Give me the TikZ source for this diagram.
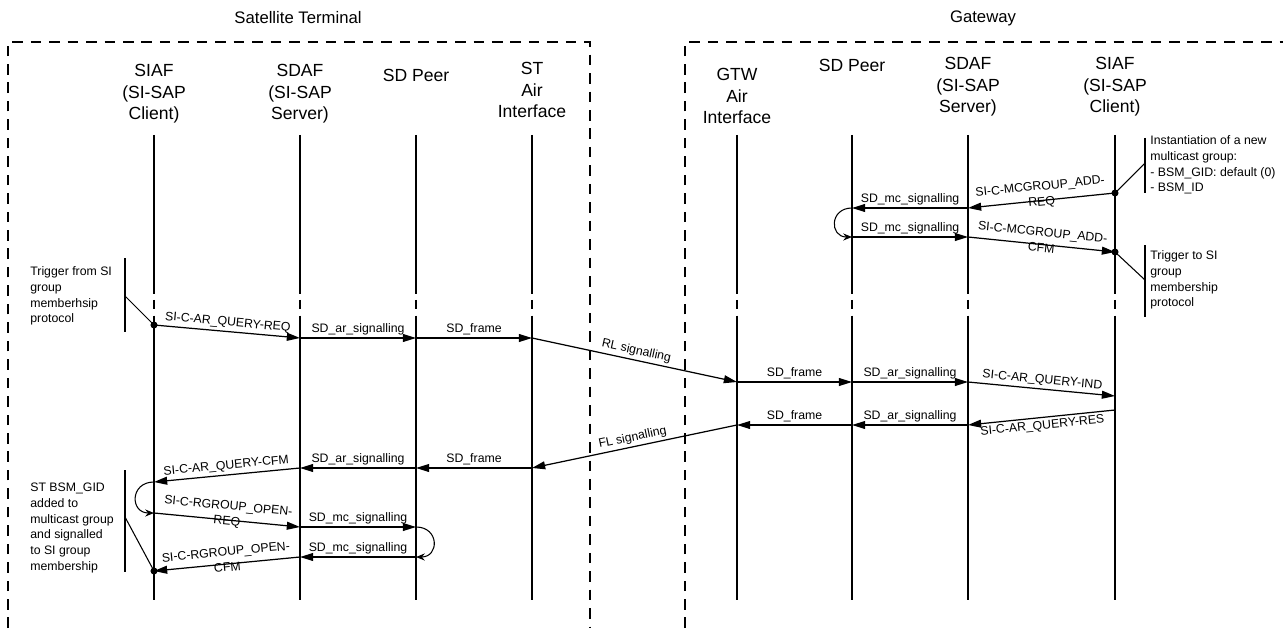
\documentclass[tikz,border=0pt]{standalone}
\usepackage{fontspec}
\setmainfont{Liberation Sans}
\usetikzlibrary{arrows.meta}

\tikzset{
  lifeline/.style={line width=0.6pt},
  breakline/.style={line width=0.6pt,dash pattern=on 5.5pt off 3.5pt},
  msg/.style={line width=0.7pt,-{Triangle[length=7.5pt,width=4.5pt]}},
  selfmsg/.style={line width=0.6pt,-{Stealth[length=5pt,width=4pt]}},
  domainbox/.style={line width=0.8pt,dash pattern=on 6pt off 4.5pt},
  actor/.style={align=center,font=\fontsize{10}{12.3}\selectfont},
  title/.style={font=\fontsize{9.5}{11}\selectfont},
  lbl/.style={font=\fontsize{7}{8}\selectfont,inner sep=1.5pt},
  wraplbl/.style={font=\fontsize{7}{8.8}\selectfont,inner sep=0pt,align=center,
    sloped,above=-4.6pt},
  note/.style={align=left,anchor=west,inner sep=0pt,font=\fontsize{7}{9}\selectfont},
  dot/.style={circle,fill,inner sep=0pt,minimum size=4pt},
}

\begin{document}
\begin{tikzpicture}[x=0.02cm,y=-0.02cm]
  \useasboundingbox (0,0) rectangle (1283,628);

  % Domains
  \node[title] (stTitle) at (298,18) {Satellite Terminal};
  \node[title] (gwTitle) at (983,18) {Gateway};
  \draw[domainbox] (8,628) -- (8,42) -- (590,42) -- (590,628);
  \draw[domainbox] (685,628) -- (685,42) -- (1290,42);

  % Lifeline heads
  \node[actor] (stSiafHd) at (154,94) {SIAF\\(SI-SAP\\Client)};
  \node[actor] (stSdafHd) at (300,94) {SDAF\\(SI-SAP\\Server)};
  \node[actor] (stPeerHd) at (416,75) {SD Peer};
  \node[actor] (stAirHd)  at (532,90) {ST\\Air\\Interface};
  \node[actor] (gwAirHd)  at (737,96) {GTW\\Air\\Interface};
  \node[actor] (gwPeerHd) at (852,65) {SD Peer};
  \node[actor] (gwSdafHd) at (968,87) {SDAF\\(SI-SAP\\Server)};
  \node[actor] (gwSiafHd) at (1115,87) {SIAF\\(SI-SAP\\Client)};

  % Lifelines
  \coordinate (stSiaf) at (154,135);
  \coordinate (stSdaf) at (300,135);
  \coordinate (stPeer) at (416,135);
  \coordinate (stAir)  at (532,135);
  \coordinate (gwAir)  at (737,135);
  \coordinate (gwPeer) at (852,135);
  \coordinate (gwSdaf) at (968,135);
  \coordinate (gwSiaf) at (1115,135);
  \coordinate (brkTop) at (0,284);
  \coordinate (brkBot) at (0,322);
  \coordinate (llEnd)  at (0,600);
  \foreach \l in {stSiaf,stSdaf,stPeer,stAir,gwAir,gwPeer,gwSdaf,gwSiaf} {
    \draw[lifeline] (\l) -- (\l |- brkTop);
    \draw[breakline] (\l |- brkTop) -- (\l |- brkBot);
    \draw[lifeline] (\l |- brkBot) -- (\l |- llEnd);
  }

  % Message levels
  \coordinate (yAddReq) at (0,193);
  \coordinate (yMcA)    at (0,208);
  \coordinate (yMcB)    at (0,237);
  \coordinate (yAddCfm) at (0,252);
  \coordinate (yQReq)   at (0,325);
  \coordinate (yFwd)    at (0,338);
  \coordinate (yGwIn)   at (0,382);
  \coordinate (yQInd)   at (0,396);
  \coordinate (yQRes)   at (0,410);
  \coordinate (yGwOut)  at (0,425);
  \coordinate (yRet)    at (0,468);
  \coordinate (yQCfm)   at (0,482);
  \coordinate (yOpReq)  at (0,513);
  \coordinate (yMcC)    at (0,527);
  \coordinate (yMcD)    at (0,557);
  \coordinate (yOpCfm)  at (0,571);

  % Multicast group set-up in the gateway
  \node[dot] (addReqDot) at (gwSiaf |- yAddReq) {};
  \node[dot] (addCfmDot) at (gwSiaf |- yAddCfm) {};
  \draw[msg] (addReqDot.center) -- node[wraplbl] {SI-C-MCGROUP\_ADD-\\REQ} (gwSdaf |- yMcA);
  \draw[msg] (gwSdaf |- yMcA) -- node[lbl,above] {SD\_mc\_signalling} (gwPeer |- yMcA);
  \draw[selfmsg] (gwPeer |- yMcA) to[out=180,in=180,looseness=2] (gwPeer |- yMcB);
  \draw[msg] (gwPeer |- yMcB) -- node[lbl,above] {SD\_mc\_signalling} (gwSdaf |- yMcB);
  \draw[msg] (gwSdaf |- yMcB) -- node[wraplbl] {SI-C-MCGROUP\_ADD-\\CFM} (addCfmDot.center);

  \node[note] (instNote) at (1150,165) {Instantiation of a new\\multicast group:\\- BSM\_GID: default (0)\\- BSM\_ID};
  \coordinate (instBar) at (1145,163);
  \draw[lifeline] (1145,138) -- (1145,193);
  \draw[lifeline] (addReqDot.center) -- (instBar);

  \node[note] (trigGwNote) at (1150,280) {Trigger to SI\\group\\membership\\protocol};
  \coordinate (trigGwBar) at (1145,280);
  \draw[lifeline] (1145,245) -- (1145,317);
  \draw[lifeline] (addCfmDot.center) -- (trigGwBar);

  % Address resolution query
  \node[note] (trigStNote) at (30,296) {Trigger from SI\\group\\memberhsip\\protocol};
  \coordinate (trigStBar) at (125,296);
  \draw[lifeline] (125,258) -- (125,332);
  \node[dot] (qReqDot) at (stSiaf |- yQReq) {};
  \draw[lifeline] (trigStBar) -- (qReqDot.center);

  \draw[msg] (qReqDot.center) -- node[lbl,above,sloped] {SI-C-AR\_QUERY-REQ} (stSdaf |- yFwd);
  \draw[msg] (stSdaf |- yFwd) -- node[lbl,above] {SD\_ar\_signalling} (stPeer |- yFwd);
  \draw[msg] (stPeer |- yFwd) -- node[lbl,above] {SD\_frame} (stAir |- yFwd);
  \draw[msg] (stAir |- yFwd) -- node[lbl,above,sloped] {RL signalling} (gwAir |- yGwIn);
  \draw[msg] (gwAir |- yGwIn) -- node[lbl,above] {SD\_frame} (gwPeer |- yGwIn);
  \draw[msg] (gwPeer |- yGwIn) -- node[lbl,above] {SD\_ar\_signalling} (gwSdaf |- yGwIn);
  \draw[msg] (gwSdaf |- yGwIn) -- node[lbl,above,sloped] {SI-C-AR\_QUERY-IND} (gwSiaf |- yQInd);

  % Address resolution answer
  \draw[msg] (gwSiaf |- yQRes) -- node[lbl,below,sloped] {SI-C-AR\_QUERY-RES} (gwSdaf |- yGwOut);
  \draw[msg] (gwSdaf |- yGwOut) -- node[lbl,above] {SD\_ar\_signalling} (gwPeer |- yGwOut);
  \draw[msg] (gwPeer |- yGwOut) -- node[lbl,above] {SD\_frame} (gwAir |- yGwOut);
  \draw[msg] (gwAir |- yGwOut) -- node[lbl,above,sloped] {FL signalling} (stAir |- yRet);
  \draw[msg] (stAir |- yRet) -- node[lbl,above] {SD\_frame} (stPeer |- yRet);
  \draw[msg] (stPeer |- yRet) -- node[lbl,above] {SD\_ar\_signalling} (stSdaf |- yRet);
  \draw[msg] (stSdaf |- yRet) -- node[lbl,above,sloped] {SI-C-AR\_QUERY-CFM} (stSiaf |- yQCfm);

  % Group opening in the terminal
  \draw[selfmsg] (stSiaf |- yQCfm) to[out=180,in=180,looseness=2] (stSiaf |- yOpReq);
  \draw[msg] (stSiaf |- yOpReq) -- node[wraplbl] {SI-C-RGROUP\_OPEN-\\REQ} (stSdaf |- yMcC);
  \draw[msg] (stSdaf |- yMcC) -- node[lbl,above] {SD\_mc\_signalling} (stPeer |- yMcC);
  \draw[selfmsg] (stPeer |- yMcC) to[out=0,in=0,looseness=2] (stPeer |- yMcD);
  \draw[msg] (stPeer |- yMcD) -- node[lbl,above] {SD\_mc\_signalling} (stSdaf |- yMcD);
  \node[dot] (opCfmDot) at (stSiaf |- yOpCfm) {};
  \draw[msg] (stSdaf |- yMcD) -- node[wraplbl] {SI-C-RGROUP\_OPEN-\\CFM} (opCfmDot.center);

  \node[note] (addedNote) at (30,528) {ST BSM\_GID\\added to\\multicast group\\and signalled\\to SI group\\membership};
  \coordinate (addedBar) at (125,517);
  \draw[lifeline] (125,470) -- (125,572);
  \draw[lifeline] (addedBar) -- (opCfmDot.center);
\end{tikzpicture}
\end{document}
